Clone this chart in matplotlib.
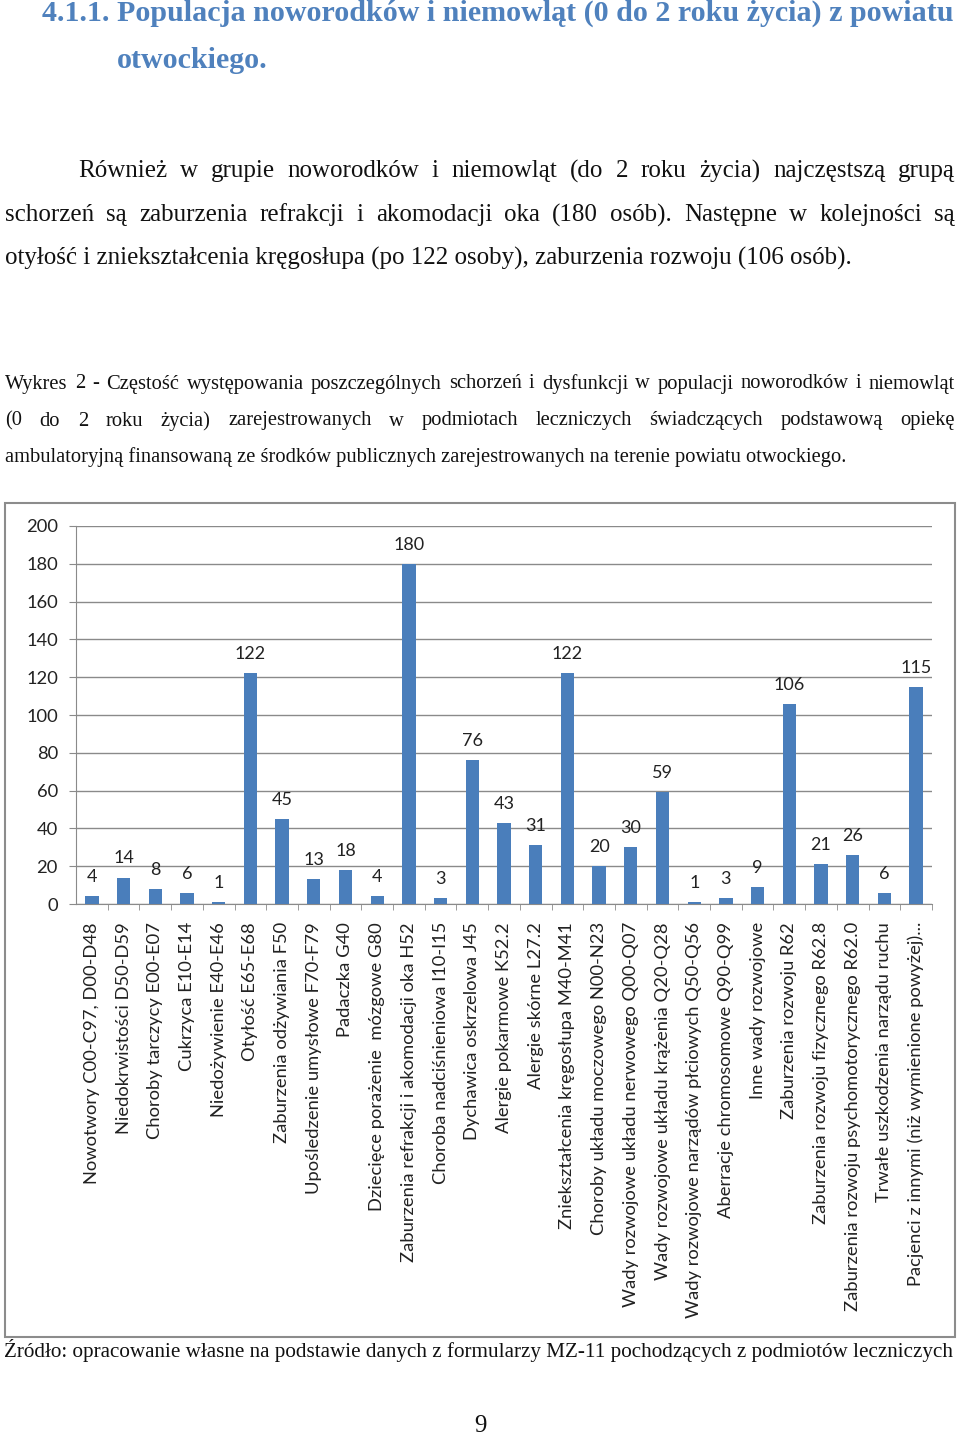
import matplotlib
matplotlib.use('Agg')
import matplotlib.pyplot as plt
import matplotlib.patches as mpatches

W, H = 960, 1436

categories = [
    'Nowotwory C00-C97, D00-D48',
    'Niedokrwistości D50-D59',
    'Choroby tarczycy E00-E07',
    'Cukrzyca E10-E14',
    'Niedożywienie E40-E46',
    'Otyłość E65-E68',
    'Zaburzenia odżywiania F50',
    'Upośledzenie umysłowe F70-F79',
    'Padaczka G40',
    'Dziecięce porażenie  mózgowe G80',
    'Zaburzenia refrakcji i akomodacji oka H52',
    'Choroba nadciśnieniowa I10-I15',
    'Dychawica oskrzelowa J45',
    'Alergie pokarmowe K52.2',
    'Alergie skórne L27.2',
    'Zniekształcenia kręgosłupa M40-M41',
    'Choroby układu moczowego N00-N23',
    'Wady rozwojowe układu nerwowego Q00-Q07',
    'Wady rozwojowe układu krążenia Q20-Q28',
    'Wady rozwojowe narządów płciowych Q50-Q56',
    'Aberracje chromosomowe Q90-Q99',
    'Inne wady rozwojowe',
    'Zaburzenia rozwoju R62',
    'Zaburzenia rozwoju fizycznego R62.8',
    'Zaburzenia rozwoju psychomotorycznego R62.0',
    'Trwałe uszkodzenia narządu ruchu',
    'Pacjenci z innymi (niż wymienione powyżej)...',
]
values = [4, 14, 8, 6, 1, 122, 45, 13, 18, 4, 180, 3, 76, 43, 31, 122,
          20, 30, 59, 1, 3, 9, 106, 21, 26, 6, 115]
yticks = list(range(0, 201, 20))

heading1 = '4.1.1. Populacja noworodków i niemowląt (0 do 2 roku życia) z powiatu'
heading2 = 'otwockiego.'
para = [
    'Również w grupie noworodków i niemowląt (do 2 roku życia) najczęstszą grupą',
    'schorzeń są zaburzenia refrakcji i akomodacji oka (180 osób). Następne w kolejności są',
    'otyłość i zniekształcenia kręgosłupa (po 122 osoby), zaburzenia rozwoju (106 osób).',
]
caption = [
    'Wykres 2 - Częstość występowania poszczególnych schorzeń i dysfunkcji w populacji noworodków i niemowląt',
    '(0 do 2 roku życia) zarejestrowanych w podmiotach leczniczych świadczących podstawową opiekę',
    'ambulatoryjną finansowaną ze środków publicznych zarejestrowanych na terenie powiatu otwockiego.',
]
source = 'Źródło: opracowanie własne na podstawie danych z formularzy MZ-11 pochodzących z podmiotów leczniczych'

BAR = '#4a7ebb'
GRID = '#8a8a8a'
CHART_FONT = 'Lato'
SERIF = 'Liberation Serif'

fig = plt.figure(figsize=(W / 100, H / 100), dpi=100)
renderer = fig.canvas.get_renderer()


def fx(px):
    return px / W


def fy(py):
    return 1 - py / H


def justified(words_line, x0, x1, y, **kw):
    # place words one by one so the line fills x0..x1
    words = words_line.split()
    texts = [fig.text(0, fy(y), w, va='center', ha='left', **kw) for w in words]
    widths = [t.get_window_extent(renderer).width for t in texts]
    gap = (x1 - x0 - sum(widths)) / (len(words) - 1)
    x = x0
    for t, w in zip(texts, widths):
        t.set_x(fx(x))
        x += w + gap


# heading
fig.text(fx(42), fy(13), heading1, family=SERIF, weight='bold', color='#4f81bd',
         fontsize=21.6, va='center', ha='left')
fig.text(fx(117), fy(60), heading2, family=SERIF, weight='bold', color='#4f81bd',
         fontsize=21.6, va='center', ha='left')

# paragraph
justified(para[0], 78, 955, 171, family=SERIF, fontsize=18, color='#111')
justified(para[1], 5, 955, 215, family=SERIF, fontsize=18, color='#111')
fig.text(fx(5), fy(258), para[2], family=SERIF, fontsize=18, color='#111',
         va='center', ha='left')

# caption
justified(caption[0], 5, 955, 384, family=SERIF, fontsize=14.8, color='#111')
justified(caption[1], 5, 955, 421, family=SERIF, fontsize=14.8, color='#111')
fig.text(fx(5), fy(457), caption[2], family=SERIF, fontsize=14.8, color='#111',
         va='center', ha='left')

# chart frame
fig.patches.append(mpatches.Rectangle((fx(5), fy(1337)), fx(950), 834 / H,
                                      transform=fig.transFigure, fill=False,
                                      ec='#8c8c8c', lw=1.5))

ax = fig.add_axes([fx(76), fy(904), fx(856), 378 / H])
x = range(len(values))
ax.bar(x, values, width=0.42, color=BAR, zorder=3)
for xi, v in zip(x, values):
    ax.annotate(str(v), (xi, v), xytext=(0, 8), textcoords='offset points',
                ha='center', va='bottom', fontsize=13, family=CHART_FONT, color='#222')
ax.set_xlim(-0.5, len(values) - 0.5)
ax.set_ylim(0, 200)
ax.set_yticks(yticks)
ax.yaxis.grid(True, color=GRID, lw=1, zorder=0)
ax.set_axisbelow(True)
for s in ('top', 'right'):
    ax.spines[s].set_visible(False)
for s in ('left', 'bottom'):
    ax.spines[s].set_color(GRID)
ax.set_xticks(list(x))
ax.set_xticklabels(categories, rotation=90, fontsize=13.2, family=CHART_FONT, color='#222')
ax.tick_params(axis='x', which='major', length=0, pad=13)
ax.set_xticks([i + 0.5 for i in x], minor=True)
ax.tick_params(axis='x', which='minor', length=4, color=GRID)
ax.tick_params(axis='y', length=5, color=GRID, labelsize=13.2, labelcolor='#222', pad=8)
for lab in ax.get_yticklabels():
    lab.set_family(CHART_FONT)

# source and page number
fig.text(fx(4), fy(1350), source, family=SERIF, fontsize=15.2, color='#111',
         va='center', ha='left')
fig.text(fx(480), fy(1426), '9', family=SERIF, fontsize=18, color='#111',
         va='center', ha='center')

fig.savefig('out.png', dpi=100)
